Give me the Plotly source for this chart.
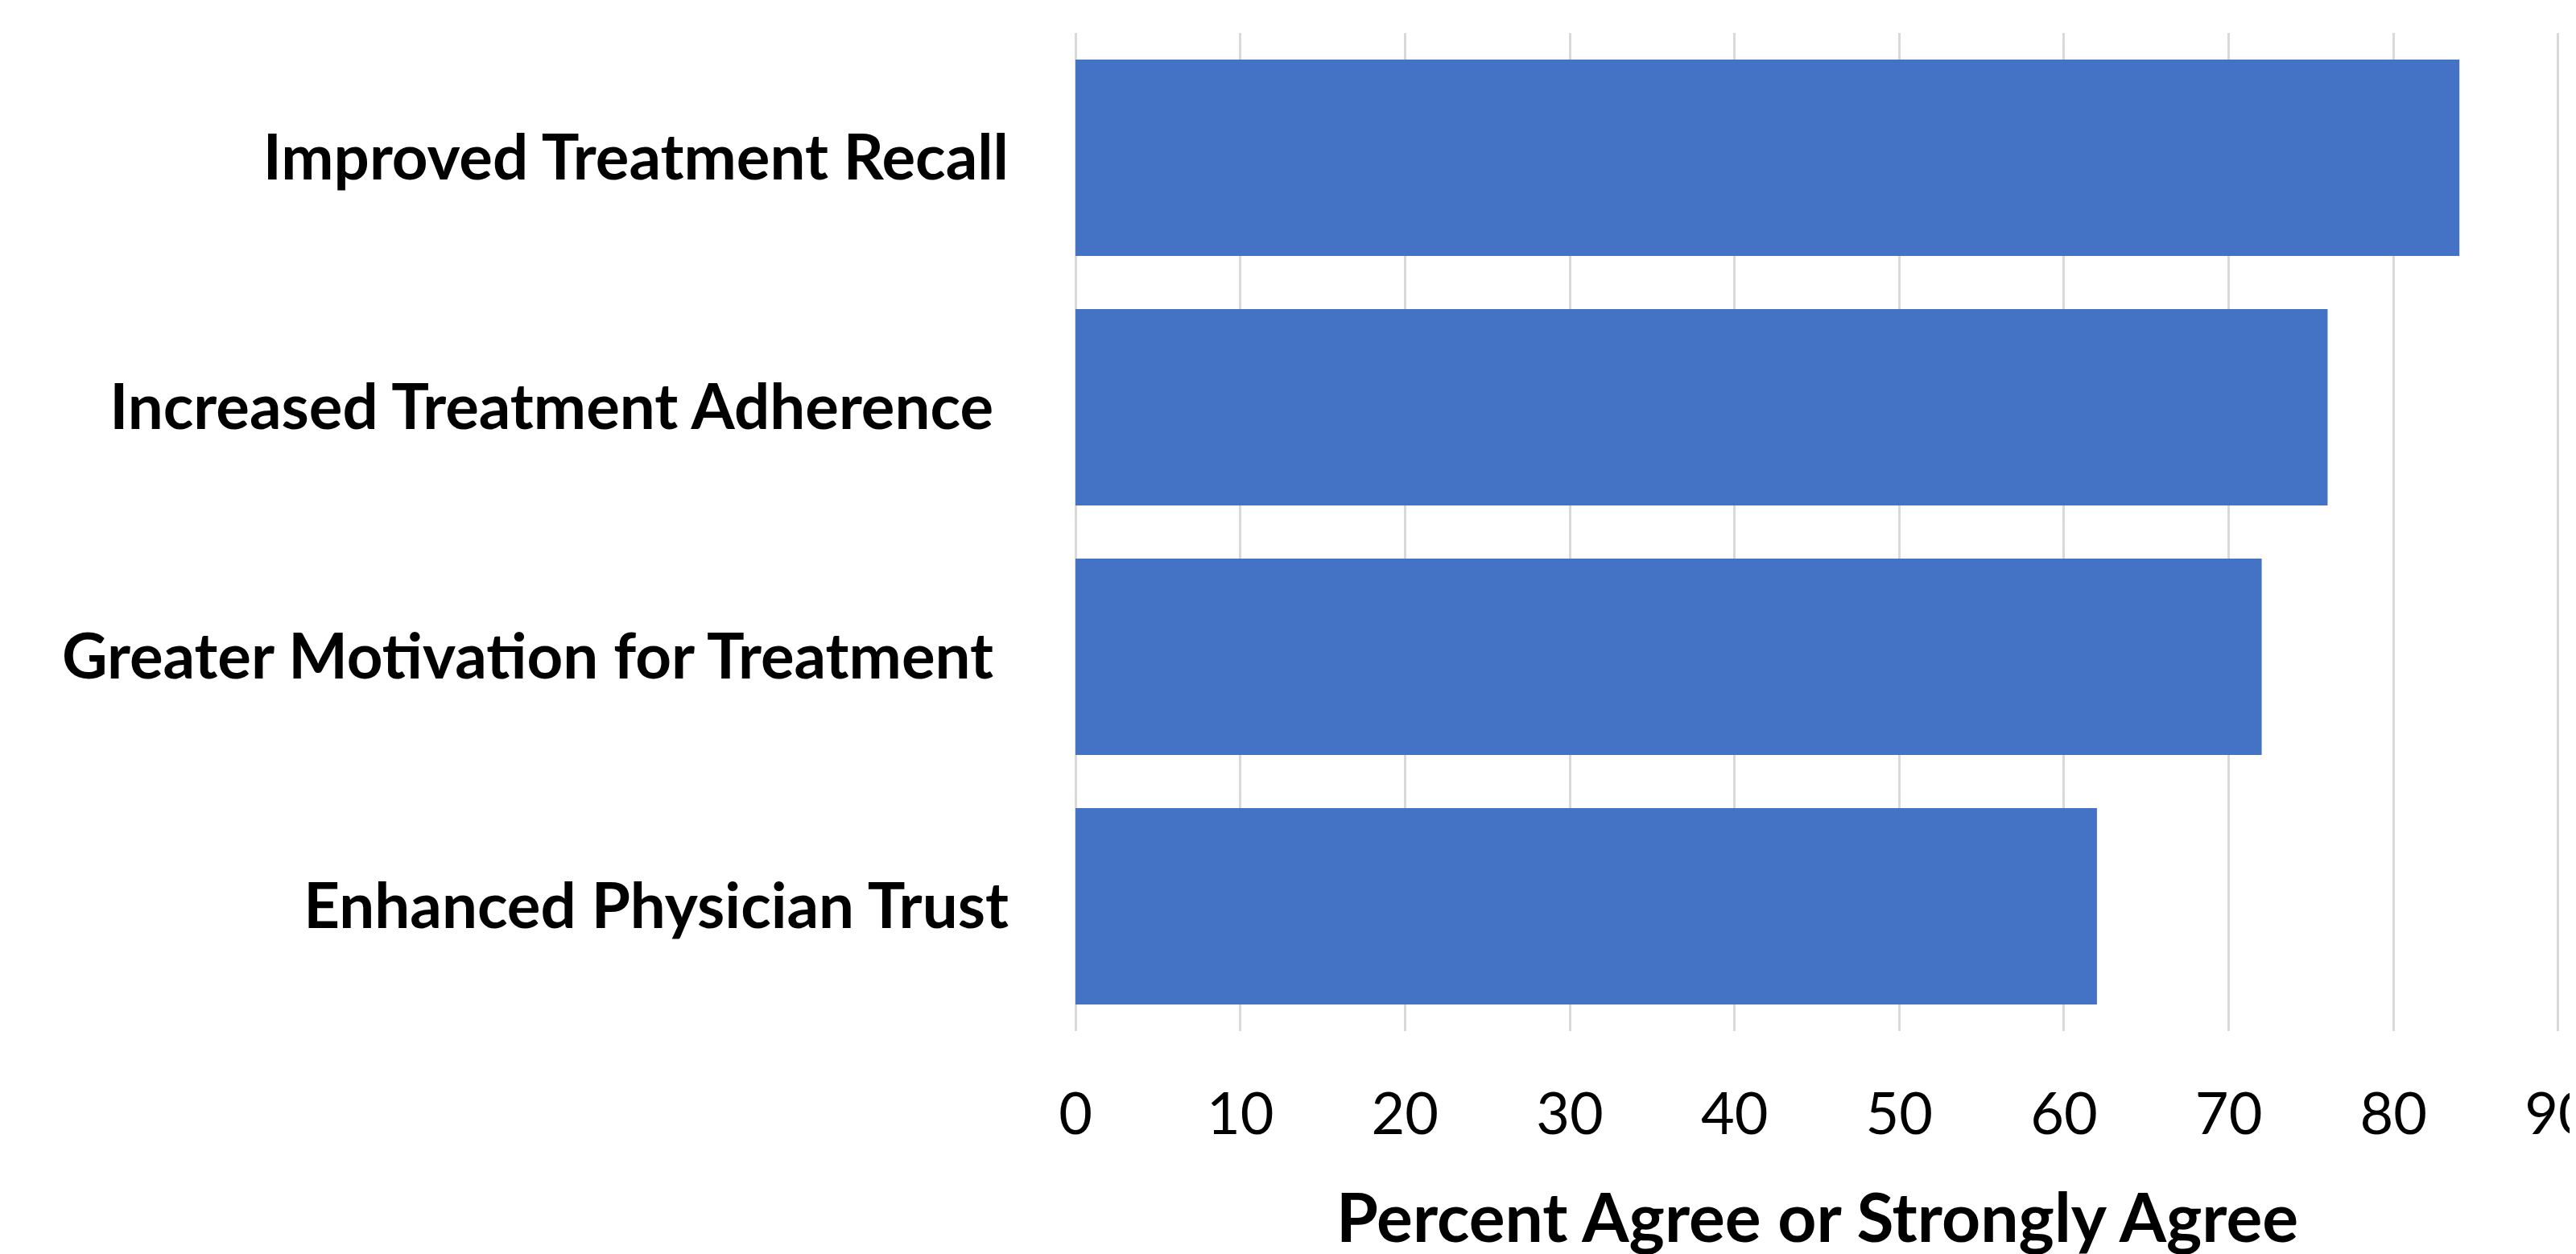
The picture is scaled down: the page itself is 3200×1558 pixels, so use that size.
import plotly.graph_objects as go

categories = [
    "Improved Treatment Recall",
    "Increased Treatment Adherence\u00a0",
    "Greater Motivation for Treatment\u00a0",
    "Enhanced Physician Trust",
]
values = [84, 76, 72, 62]
x_ticks = [0, 10, 20, 30, 40, 50, 60, 70, 80, 90]
x_title = "Percent Agree or Strongly Agree"

BAR_COLOR = "#4472C4"
GRID_COLOR = "#D9D9D9"
FONT = "Lato"

fig = go.Figure(
    go.Bar(
        x=values,
        y=categories,
        orientation="h",
        marker=dict(color=BAR_COLOR, line=dict(width=0)),
    )
)

fig.update_layout(
    width=3200,
    height=1558,
    margin=dict(l=1326, r=28, t=33, b=285, autoexpand=False),
    paper_bgcolor="white",
    plot_bgcolor="white",
    bargap=0.213,
    showlegend=False,
    font=dict(family=FONT, color="black"),
    xaxis=dict(
        range=[-0.1, 90.1],
        tickvals=x_ticks,
        ticktext=[str(v) for v in x_ticks],
        showgrid=True,
        gridcolor=GRID_COLOR,
        gridwidth=3,
        zeroline=False,
        showline=False,
        ticks="",
        tickfont=dict(family=FONT, size=72, color="black"),
        ticklabelstandoff=55,
        ticklabeloverflow="allow",
        automargin=False,
    ),
    yaxis=dict(
        categoryorder="array",
        categoryarray=categories,
        autorange="reversed",
        showgrid=False,
        zeroline=False,
        showline=False,
        ticks="",
        tickfont=dict(family=FONT, size=78, color="black", weight="bold"),
        ticklabelstandoff=80,
        automargin=False,
    ),
    annotations=[
        dict(
            text="<b>" + x_title + "</b>",
            xref="paper",
            yref="paper",
            x=0.5,
            y=-0.185,
            xanchor="center",
            yanchor="middle",
            showarrow=False,
            font=dict(family=FONT, size=84, color="black"),
        )
    ],
)

fig.write_html("out.html")
